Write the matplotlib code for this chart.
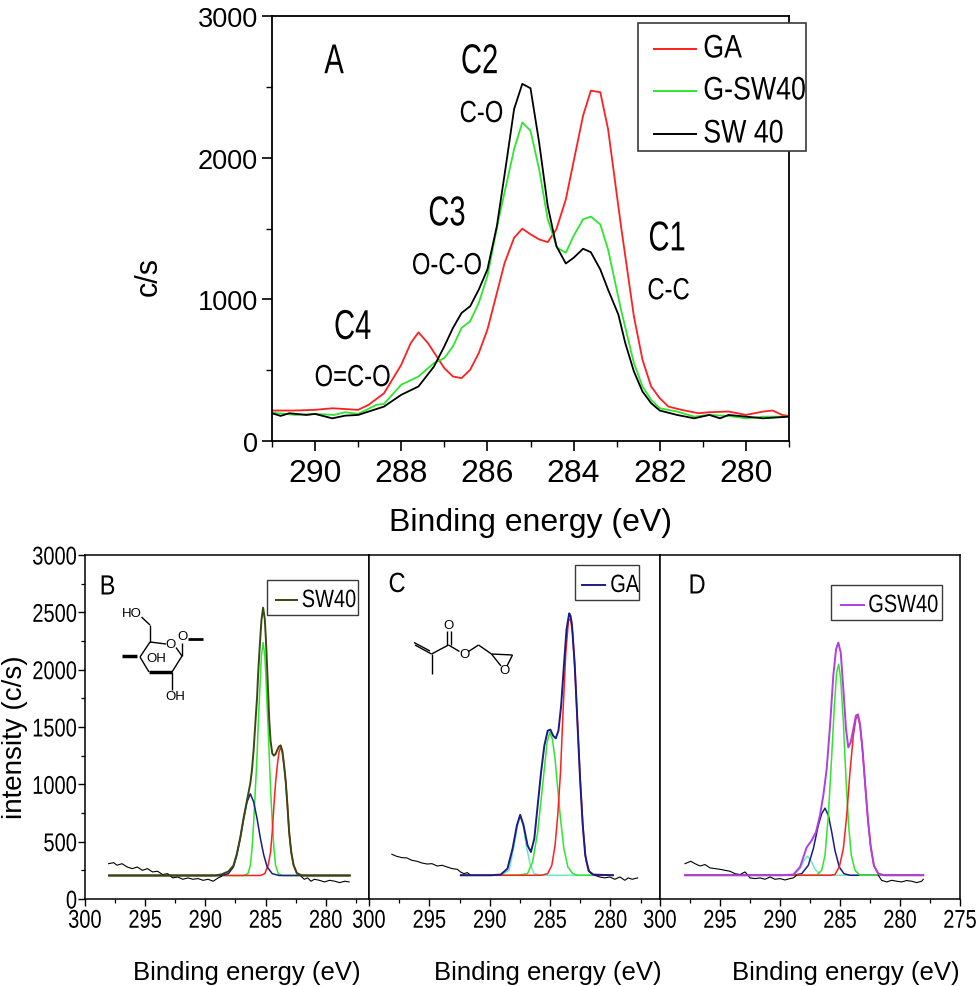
import matplotlib
matplotlib.use('Agg')
import matplotlib.pyplot as plt
from matplotlib.lines import Line2D
from matplotlib.patches import Rectangle
from matplotlib.patheffects import AbstractPathEffect
from matplotlib.transforms import Affine2D
from matplotlib.ticker import MultipleLocator

W, H = 976, 987
plt.rcParams['font.family'] = ['Liberation Sans', 'DejaVu Sans']

# ---------------- panel A : C1s spectra ----------------
ga_x = [291.0, 290.5, 290.0, 289.6, 289.0, 288.76, 288.4, 288.0, 287.78, 287.6, 287.38,
        287.0, 286.8, 286.6, 286.4, 286.2, 286.0, 285.6, 285.38, 285.19, 285.0, 284.8,
        284.6, 284.4, 284.18, 283.78, 283.6, 283.38, 283.2, 282.9, 282.6, 282.4, 282.2,
        282.0, 281.8, 281.5, 281.1, 280.85, 280.4, 280.0, 279.6, 279.38, 279.16, 279.0]
ga_y = [215, 215, 220, 231, 220, 255, 337, 538, 691, 767, 691,
        514, 455, 444, 503, 621, 786, 1258, 1435, 1499, 1459, 1423,
        1404, 1494, 1706, 2296, 2473, 2462, 2202, 1518, 880, 573, 385,
        302, 243, 220, 196, 203, 208, 184, 208, 215, 184, 177]

gsw_x = [291.0, 290.45, 290.0, 289.56, 289.3, 289.0, 288.58, 288.4, 288.0, 287.6, 287.24,
         287.0, 286.8, 286.6, 286.4, 286.2, 286.0, 285.74, 285.38, 285.19, 285.0, 284.8,
         284.6, 284.38, 284.18, 284.0, 283.78, 283.6, 283.38, 283.2, 282.9, 282.6, 282.4,
         282.2, 282.0, 281.6, 281.2, 280.85, 280.4, 280.0, 279.6, 279.0]
gsw_y = [200, 184, 191, 184, 203, 191, 255, 262, 397, 455, 550,
         585, 668, 798, 845, 975, 1164, 1565, 2060, 2249, 2190, 1919,
         1565, 1364, 1329, 1447, 1565, 1584, 1529, 1352, 928, 550, 385,
         290, 231, 208, 172, 184, 177, 160, 172, 172]

sw_x = [291.0, 290.8, 290.6, 290.2, 290.0, 289.6, 289.3, 289.0, 288.4, 288.0, 287.6,
        287.24, 287.0, 286.8, 286.6, 286.4, 286.2, 286.0, 285.78, 285.56, 285.38, 285.19,
        285.0, 284.8, 284.6, 284.4, 284.18, 284.0, 283.78, 283.6, 283.38, 283.2, 282.96,
        282.8, 282.6, 282.4, 282.2, 282.0, 281.6, 281.2, 280.85, 280.6, 280.4, 280.0,
        279.6, 279.0]
sw_y = [196, 177, 196, 184, 191, 160, 179, 184, 243, 326, 385,
        526, 668, 798, 904, 951, 1069, 1211, 1518, 1966, 2344, 2521,
        2490, 2108, 1659, 1376, 1253, 1293, 1357, 1333, 1211, 1069, 892,
        691, 491, 349, 267, 215, 184, 160, 184, 160, 184, 172,
        160, 172]

# ---------------- panel B : SW40 fit ----------------
b_env_x = [298.0, 289.2, 288.65, 288.09, 287.67, 287.39, 287.1, 286.82, 286.54, 286.26,
           286.12, 285.98, 285.84, 285.7, 285.62, 285.51, 285.42, 285.34, 285.2, 285.06,
           284.97, 284.89, 284.78, 284.69, 284.58, 284.44, 284.3, 284.16, 284.02, 283.88,
           283.74, 283.6, 283.46, 283.32, 283.18, 283.04, 282.87, 282.67, 282.39, 281.97, 278.0]
b_env_y = [205, 205, 215, 240, 290, 390, 535, 705, 860, 1010,
           1130, 1310, 1540, 1760, 1950, 2150, 2300, 2430, 2541, 2440,
           2270, 2080, 1800, 1560, 1380, 1270, 1250, 1265, 1300, 1330,
           1340, 1290, 1170, 1025, 820, 590, 415, 297, 225, 205, 205]
b_green_x = [298.0, 286.82, 286.46, 286.26, 286.12, 285.98, 285.84, 285.7, 285.62, 285.51,
             285.42, 285.34, 285.2, 285.06, 284.97, 284.89, 284.78, 284.69, 284.58, 284.44,
             284.3, 284.16, 283.94, 283.6, 278.0]
b_green_y = [205, 205, 221, 294, 439, 671, 961, 1250, 1482, 1743,
             1946, 2120, 2236, 2120, 1946, 1743, 1482, 1250, 961, 671,
             439, 294, 221, 205, 205]
b_blue_x = [298.0, 288.65, 288.09, 287.67, 287.39, 287.1, 286.82, 286.54, 286.26, 285.98,
            285.7, 285.42, 285.14, 284.86, 284.44, 283.88, 278.0]
b_blue_y = [205, 205, 221, 279, 381, 526, 700, 845, 917, 845,
            700, 526, 381, 279, 221, 205, 205]
b_red_x = [298.0, 285.42, 285.06, 284.78, 284.58, 284.44, 284.3, 284.16, 284.02, 283.88,
           283.74, 283.6, 283.46, 283.32, 283.18, 283.04, 282.87, 282.67, 282.39, 281.97, 278.0]
b_red_y = [205, 205, 221, 294, 410, 584, 816, 1019, 1164, 1280,
           1323, 1280, 1164, 1019, 816, 584, 410, 294, 221, 205, 205]
b_raw1_x = [298.04, 297.62, 297.34, 296.92, 296.5, 296.07, 295.65, 295.23, 294.81, 294.39,
            293.97, 293.55, 293.13, 292.71, 292.29, 291.87, 291.45, 291.03, 290.61, 290.19,
            289.77, 289.35, 288.93, 288.65]
b_raw1_y = [308, 317, 294, 308, 279, 265, 279, 250, 265, 236,
            242, 213, 221, 184, 192, 172, 184, 172, 178, 163,
            172, 155, 184, 198]
b_raw2_x = [282.05, 281.78, 281.5, 281.22, 280.94, 280.52, 280.1, 279.67, 279.25, 278.83, 278.41, 278.05]
b_raw2_y = [198, 172, 184, 155, 172, 163, 149, 163, 155, 143, 155, 149]

# ---------------- panel C : GA fit ----------------
c_env_x = [292.4, 289.92, 289.09, 288.53, 288.11, 287.75, 287.48, 287.2, 286.87, 286.59,
           286.31, 286.03, 285.75, 285.48, 285.2, 284.98, 284.75, 284.53, 284.31, 284.09,
           283.86, 283.64, 283.42, 283.31, 283.2, 282.97, 282.75, 282.53, 282.31, 282.09,
           281.81, 281.45, 279.8]
c_env_y = [207, 207, 213, 265, 439, 642, 734, 642, 468, 410,
           526, 816, 1105, 1337, 1468, 1477, 1424, 1401, 1468, 1685,
           2033, 2352, 2491, 2470, 2400, 2060, 1570, 1070, 660, 380,
           245, 213, 207]
c_green_x = [292.4, 287.7, 286.87, 286.45, 286.03, 285.62, 285.25, 285.03, 284.81, 284.59,
             284.37, 284.14, 283.86, 283.53, 283.11, 282.7, 279.8]
c_green_y = [207, 207, 221, 323, 584, 990, 1366, 1453, 1395, 1221,
             961, 700, 439, 279, 221, 207, 207]
c_red_x = [292.4, 285.75, 285.2, 284.86, 284.59, 284.37, 284.14, 283.92, 283.7, 283.48,
           283.31, 283.14, 282.92, 282.7, 282.48, 282.25, 282.03, 281.73, 281.31, 279.8]
c_red_y = [207, 207, 221, 294, 468, 729, 1105, 1656, 2149, 2425,
           2445, 2323, 1946, 1453, 990, 584, 337, 236, 207, 207]
c_cyan_x = [292.4, 289.09, 288.39, 287.98, 287.7, 287.48, 287.25, 286.98, 286.64, 286.31, 285.75, 279.8]
c_cyan_y = [207, 207, 250, 468, 642, 729, 657, 468, 294, 221, 207, 207]
c_raw1_x = [298.11, 297.7, 297.28, 296.86, 296.44, 296.03, 295.61, 295.19, 294.78, 294.36,
            293.94, 293.53, 293.11, 292.69, 292.42, 292.14, 291.86, 291.58]
c_raw1_y = [390, 372, 361, 358, 337, 329, 314, 305, 308, 288,
            294, 279, 265, 259, 236, 221, 230, 207]
c_raw2_x = [281.31, 280.89, 280.47, 280.06, 279.64, 279.22, 278.81, 278.53, 278.2, 277.75]
c_raw2_y = [207, 192, 184, 192, 172, 192, 163, 184, 172, 184]

# ---------------- panel D : G-SW40 fit ----------------
d_env_x = [297.9, 290.0, 288.89, 288.33, 287.78, 287.36, 287.0, 286.67, 286.39, 286.11,
           285.83, 285.56, 285.33, 285.14, 284.94, 284.72, 284.5, 284.31, 284.11, 283.89,
           283.67, 283.5, 283.33, 283.11, 282.89, 282.67, 282.44, 282.17, 281.81, 281.25, 278.06]
d_env_y = [207, 207, 213, 279, 450, 511, 584, 729, 903, 1134,
           1511, 1946, 2178, 2236, 2149, 1830, 1482, 1323, 1366, 1482,
           1600, 1610, 1525, 1290, 985, 690, 458, 290, 221, 207, 207]
d_green_x = [297.9, 286.94, 286.53, 286.25, 285.97, 285.69, 285.47, 285.28, 285.11, 284.94,
             284.72, 284.5, 284.28, 284.06, 283.75, 283.33, 278.06]
d_green_y = [207, 207, 250, 381, 729, 1250, 1685, 1975, 2048, 1917,
             1540, 1047, 642, 381, 250, 207, 207]
d_red_x = [297.9, 285.83, 285.42, 285.06, 284.72, 284.44, 284.17, 283.89, 283.67, 283.5,
           283.33, 283.11, 282.89, 282.67, 282.44, 282.17, 281.81, 281.39, 278.06]
d_red_y = [207, 207, 213, 279, 439, 729, 1105, 1424, 1575, 1592,
           1511, 1279, 975, 685, 454, 288, 221, 207, 207]
d_navy_x = [297.9, 288.89, 288.19, 287.64, 287.22, 286.81, 286.53, 286.25, 285.97, 285.69,
            285.42, 285.06, 284.67, 284.17, 278.06]
d_navy_y = [207, 207, 221, 294, 439, 642, 743, 792, 729, 584,
            424, 279, 221, 207, 207]
d_cyan_x = [297.9, 288.89, 288.33, 288.0, 287.72, 287.44, 287.08, 286.67, 286.11, 278.06]
d_cyan_y = [207, 207, 265, 337, 374, 337, 259, 213, 207, 207]
d_raw1_x = [297.92, 297.44, 297.08, 296.67, 296.25, 295.83, 295.42, 295.0, 294.58, 294.17,
            293.75, 293.33, 292.92, 292.72, 292.5, 292.08, 291.67, 291.25, 290.83, 290.42,
            290.0, 289.58, 289.17, 288.89, 288.61]
d_raw1_y = [308, 329, 308, 288, 300, 271, 265, 259, 250, 242,
            221, 213, 236, 213, 184, 178, 184, 172, 192, 172,
            178, 166, 178, 184, 207]
d_raw2_x = [281.81, 281.53, 281.11, 280.69, 280.28, 279.86, 279.44, 279.03, 278.61, 278.19, 278.06]
d_raw2_y = [207, 163, 149, 163, 155, 149, 161, 155, 143, 155, 172]

peak_labels = [('A', 289.56, 2674, 30), ('C2', 286.18, 2674, 30), ('C-O', 286.14, 2308, 22),
               ('C3', 286.94, 1600, 30), ('O-C-O', 286.94, 1234, 22), ('C1', 281.83, 1423, 30),
               ('C-C', 281.8, 1057, 22), ('C4', 289.13, 798, 30), ('O=C-O', 289.13, 444, 22)]
top_series = ['GA', 'G-SW40', 'SW 40']

GREEN = '#2ee62e'
RED = '#ff1f1f'
NAVY = '#1c1c86'
CYAN = '#6fe8bf'
OLIVE = '#3a4812'
PURPLE = '#b03ee6'


class Squeeze(AbstractPathEffect):
    """draw text narrower (the original uses a condensed face)"""
    def __init__(self, sx=0.8, anchor='center'):
        super().__init__()
        self.sx = sx
        self.anchor = anchor

    def draw_path(self, renderer, gc, tpath, affine, rgbFace=None):
        ext = tpath.get_extents(affine)
        if self.anchor == 'right':
            x0 = ext.x1
        elif self.anchor == 'left':
            x0 = ext.x0
        else:
            x0 = 0.5 * (ext.x0 + ext.x1)
        sq = affine + Affine2D().translate(-x0, 0).scale(self.sx, 1).translate(x0, 0)
        renderer.draw_path(gc, tpath, sq, rgbFace)


def box(l, t, r, b):
    return [l / W, 1 - b / H, (r - l) / W, (b - t) / H]


def fpt(x, y):
    return (x / W, 1 - y / H)


fig = plt.figure(figsize=(W / 100, H / 100), dpi=100)


def seg(p, q, lw=1.0, color='black', z=3):
    fig.add_artist(Line2D([p[0] / W, q[0] / W], [1 - p[1] / H, 1 - q[1] / H], color=color,
                          lw=lw, transform=fig.transFigure, solid_capstyle='butt', zorder=z))


def legend_box(l, t, r, b, lw=1.1):
    fig.add_artist(Rectangle(fpt(l, b), (r - l) / W, (b - t) / H, transform=fig.transFigure,
                             facecolor='white', edgecolor='#3a3a3a', lw=lw, zorder=2))


def narrow_text(x, y, s, size, sx, anchor='left'):
    t = fig.text(*fpt(x, y), s, fontsize=size, ha=anchor, va='center', zorder=4)
    t.set_path_effects([Squeeze(sx, anchor)])
    return t


# ===== top panel =====
ax = fig.add_axes(box(272, 17, 789, 442))
ax.plot(ga_x, ga_y, color=RED, lw=1.3)
ax.plot(gsw_x, gsw_y, color=GREEN, lw=1.3)
ax.plot(sw_x, sw_y, color='black', lw=1.3)
ax.set_xlim(291, 279)
ax.set_ylim(0, 3000)
ax.xaxis.set_major_locator(MultipleLocator(2))
ax.xaxis.set_minor_locator(MultipleLocator(1))
ax.yaxis.set_major_locator(MultipleLocator(1000))
ax.yaxis.set_minor_locator(MultipleLocator(500))
ax.tick_params(which='major', direction='out', length=7, width=1.2, pad=5)
ax.tick_params(which='minor', direction='out', length=4, width=1.0)
ax.tick_params(axis='x', labelsize=23)
ax.tick_params(axis='y', labelsize=19.5, pad=3)
for s in ax.spines.values():
    s.set_linewidth(1.3)
ax.set_xlabel('Binding energy (eV)', fontsize=23, labelpad=14)
fig.text(*fpt(149, 277), 'c/s', fontsize=22, rotation=90, ha='center', va='center')
for txt, xv, yv, fs in peak_labels:
    t = ax.text(xv, yv, txt, fontsize=fs, ha='center', va='center')
    t.set_path_effects([Squeeze(0.7 if fs > 25 else 0.78)])

# legend of the top panel
legend_box(638, 24, 806, 152, lw=1.2)
for name, col, yy in zip(top_series, [RED, GREEN, 'black'], [50, 92, 135]):
    seg((653, yy), (697, yy), lw=1.4, color=col, z=4)
    narrow_text(703, yy, name, 23.5, 0.82)


# ===== bottom panels =====
def squeeze_ticks(a, yticks):
    for lab in a.get_xticklabels():
        lab.set_path_effects([Squeeze(0.78, 'center')])
    if yticks:
        for lab in a.get_yticklabels():
            lab.set_path_effects([Squeeze(0.78, 'right')])


def panel(rect, xmax, comps, env, env_color, raws, ylab):
    a = fig.add_axes(rect)
    for (xs, ys, c) in comps:
        a.plot(xs, ys, color=c, lw=1.1)
    for (xs, ys) in raws:
        a.plot(xs, ys, color='black', lw=0.8)
    a.plot(env[0], env[1], color=env_color, lw=1.4)
    a.set_xlim(300, xmax)
    a.set_ylim(0, 3000)
    a.xaxis.set_major_locator(MultipleLocator(5))
    a.xaxis.set_minor_locator(MultipleLocator(2.5))
    a.tick_params(axis='x', which='major', direction='out', length=5, width=1.0, pad=2,
                  labelsize=18.5)
    a.tick_params(axis='x', which='minor', direction='out', length=3, width=0.9)
    if ylab:
        a.yaxis.set_major_locator(MultipleLocator(500))
        a.yaxis.set_minor_locator(MultipleLocator(250))
        a.tick_params(axis='y', which='major', direction='out', length=5, width=1.0, pad=0.5,
                      labelsize=18.5)
        a.tick_params(axis='y', which='minor', direction='out', length=3, width=0.9)
    else:
        a.set_yticks([])
    for s in a.spines.values():
        s.set_linewidth(1.1)
    return a


axb = panel(box(85, 556, 369, 900), 276.4,
            [(b_green_x, b_green_y, GREEN), (b_red_x, b_red_y, RED), (b_blue_x, b_blue_y, NAVY)],
            (b_env_x, b_env_y), OLIVE, [(b_raw1_x, b_raw1_y), (b_raw2_x, b_raw2_y)], True)
axc = panel(box(369, 556, 660, 900), 275.9,
            [(c_cyan_x, c_cyan_y, CYAN), (c_green_x, c_green_y, GREEN), (c_red_x, c_red_y, RED)],
            (c_env_x, c_env_y), NAVY, [(c_raw1_x, c_raw1_y), (c_raw2_x, c_raw2_y)], False)
axd = panel(box(660, 556, 960, 900), 275.0,
            [(d_cyan_x, d_cyan_y, CYAN), (d_navy_x, d_navy_y, NAVY), (d_green_x, d_green_y, GREEN),
             (d_red_x, d_red_y, RED)],
            (d_env_x, d_env_y), PURPLE, [(d_raw1_x, d_raw1_y), (d_raw2_x, d_raw2_y)], False)
axd.set_xticks([300, 295, 290, 285, 280, 275])
squeeze_ticks(axb, True)
squeeze_ticks(axc, False)
squeeze_ticks(axd, False)

# panel letters
for letter, lx, ly in [('B', 107.5, 588.5), ('C', 397, 586), ('D', 697, 587.5)]:
    narrow_text(lx, ly, letter, 20, 0.85, anchor='center')

# legends of the fit panels
for lab, col, (l, t, r, b), (x0, x1, yy), tx in [
        ('SW40', OLIVE, (267, 581, 358, 616), (275, 298, 601), 301.5),
        ('GA', NAVY, (575, 566, 639, 601), (581, 606, 586), 610),
        ('GSW40', PURPLE, (831, 586, 942, 621), (840, 865, 606), 868)]:
    legend_box(l, t, r, b, lw=1.0)
    seg((x0, yy), (x1, yy), lw=1.4, color=col, z=4)
    narrow_text(tx, yy, lab, 18, 0.8)

for cx in (247, 548, 846):
    fig.text(*fpt(cx, 973), 'Binding energy (eV)', fontsize=18.5, ha='center', va='center')
fig.text(*fpt(15, 737), 'intensity (c/s)', fontsize=20, rotation=90, ha='center', va='center')


# ===== small structure sketches =====
def atom(x, y, s, size=9.5):
    fig.text(*fpt(x, y), s, fontsize=size, ha='center', va='center')


# glucose unit (panel B)
atom(131.5, 614, 'HO')
seg((141.5, 618), (150, 626))
seg((150, 626), (150, 643))
seg((150, 643), (166, 645))
atom(171, 645, 'O')
seg((176, 648.5), (182, 657))
seg((182, 657), (182, 644))
atom(182, 637.5, 'O')
seg((188, 639.5), (203, 639.5), lw=2.0)
seg((182, 657), (172, 673))
seg((172, 673), (149, 673), lw=2.5)
seg((149, 673), (140, 658))
seg((140, 658), (150, 643))
seg((122, 657), (137, 657), lw=2.5)
atom(156, 658.5, 'OH')
seg((172, 673), (172, 691))
atom(175, 697, 'OH')

# glycidyl methacrylate (panel C)
atom(448.5, 626.5, 'O')
seg((447, 632), (447, 646))
seg((450.5, 632), (450.5, 646))
seg((448.5, 646), (431.5, 655))
seg((431.5, 655), (415, 646))
seg((430, 652), (414, 643.5))
seg((431.5, 655), (431.5, 675))
seg((448.5, 646), (459.5, 652.5))
atom(464, 655, 'O')
seg((468.5, 652.5), (478.5, 646))
seg((478.5, 646), (491.5, 655))
seg((491.5, 655), (512.5, 656))
seg((491.5, 655), (501, 667))
seg((512.5, 656), (507, 667))
atom(504, 671.5, 'O')

fig.savefig('out.png', dpi=100)
